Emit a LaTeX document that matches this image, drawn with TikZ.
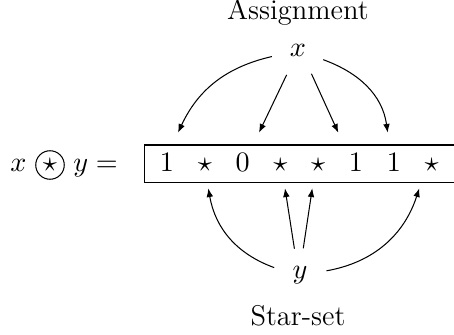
\documentclass[tikz,border=0pt]{standalone}
\usetikzlibrary{arrows.meta}
\begin{document}
\begin{tikzpicture}[x=0.389pt,y=-0.389pt,
  font=\fontsize{11.1}{13.3}\selectfont,
  line width=0.4pt,
  arr/.style={-{Latex[length=3.4pt,width=2.6pt]}},
  cell/.style={anchor=base, inner sep=0pt},
  hub/.style={circle, inner sep=0pt, minimum size=20.5pt},
  op/.style={circle, draw, inner sep=0pt, minimum size=11.1pt}]
\useasboundingbox (0,0) rectangle (454,335);
% row box
\draw (144.3,145) rectangle (470,182.7);
\foreach \v [count=\i from 0] in {1,\star,0,\star,\star,1,1,\star}
  \node[cell] (c\i) at ({167+37.8*\i},172) {$\v$};
% left expression
\node[cell] (lx) at (18.3,172) {$x$};
\node[op] (opr) at (50,165) {$\star$};
\node[cell] (ly) at (80.8,172) {$y$};
\node[cell] (eq) at (106.7,172) {$=$};
% labels
\node[cell] (asg) at (298,19.5) {Assignment};
\node[cell] (sts) at (298,325.7) {Star-set};
\node[hub] (nx) at (298,50.5) {$x$};
\node[hub] (ny) at (300,275) {$y$};
% arrow targets
\coordinate (t1) at (178,132.7);
\coordinate (t2) at (259,132.7);
\coordinate (t3) at (338.3,132.7);
\coordinate (t4) at (387.7,132.7);
\coordinate (b1) at (208.3,188.3);
\coordinate (b2) at (285,188.3);
\coordinate (b3) at (312.3,188.3);
\coordinate (b4) at (419.3,188.3);
% arrows
\draw[arr] (nx.193) to[out=193,in=65] (t1);
\draw[arr] (nx.245) -- (t2);
\draw[arr] (nx.300) -- (t3);
\draw[arr] (nx.340) to[out=-20,in=98] (t4);
\draw[arr] (ny.164) to[out=160,in=-80] (b1);
\draw[arr] (ny.102) -- (b2);
\draw[arr] (ny.83) -- (b3);
\draw[arr] (ny.9) to[out=10,in=252] (b4);
\end{tikzpicture}
\end{document}
